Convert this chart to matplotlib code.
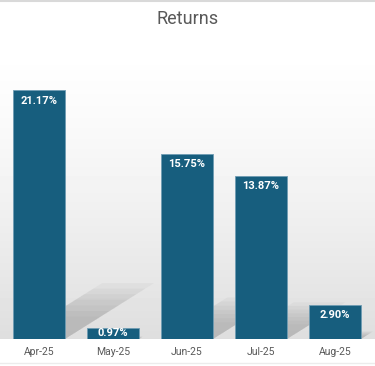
import numpy as np
import matplotlib
matplotlib.use("Agg")
from matplotlib import pyplot as plt
from matplotlib.patches import Polygon

months = ["Apr-25", "May-25", "Jun-25", "Jul-25", "Aug-25"]
returns = [21.17, 0.97, 15.75, 13.87, 2.90]
labels = ["21.17%", "0.97%", "15.75%", "13.87%", "2.90%"]

plt.rcParams['font.family'] = ['Roboto', 'DejaVu Sans']

fig = plt.figure(figsize=(3.75, 3.66), dpi=100)

# background gradient (white at top, light grey towards the floor)
bg = fig.add_axes([0, 0, 1, 1], zorder=-2)
bg.set_axis_off()
h = 366
rows = np.ones(h)
for i in range(h):
    if 40 < i < 339:
        t = (i - 40) / (339 - 40)
        rows[i] = 1.0 - 0.13 * t ** 1.4
grad = np.repeat(rows[:, None], 10, axis=1)
bg.imshow(grad, cmap="gray", vmin=0, vmax=1, aspect="auto", extent=[0, 1, 0, 1])
bg.plot([0, 1], [0.997, 0.997], color="#d9d9d9", lw=1.5)
bg.plot([0, 1], [0.008, 0.008], color="#ececec", lw=1)
bg.set_xlim(0, 1)
bg.set_ylim(0, 1)

ax = fig.add_axes([0, 1 - 339 / 366, 1, 294 / 366])
ax.set_facecolor("none")
x = np.arange(len(months))
ax.set_xlim(-39 / 74, (375 - 39) / 74)
ax.set_ylim(0, 25)

# soft floor shadows cast behind the bars
w = 0.7
for xi, v in zip(x, returns):
    dx = v * 0.057
    dy = v * 0.225
    for k in range(7):
        s = 1 - k * 0.1
        poly = Polygon([(xi - w / 2, 0), (xi + w / 2, 0),
                        (xi + w / 2 + dx * s, dy * s), (xi - w / 2 + dx * s, dy * s)],
                       closed=True, facecolor="#8a8a8a", edgecolor="none",
                       alpha=0.075, zorder=1)
        ax.add_patch(poly)

bars = ax.bar(x, returns, width=w, color="#175e7e", edgecolor="#6f9cb3",
              linewidth=0.6, zorder=3)

for b, v, lab in zip(bars, returns, labels):
    ly = max(v - 0.9, v / 2)
    t = ax.text(b.get_x() + b.get_width() / 2, ly, lab, ha="center", va="center",
                color="white", fontsize=8, fontweight="bold", zorder=4)
    t.set_clip_path(b)

ax.set_xticks(x)
ax.set_xticklabels(months, fontsize=7.5, color="#595959")
ax.tick_params(axis="x", length=0, pad=6)
ax.set_yticks([])
for sp in ax.spines.values():
    sp.set_visible(False)

fig.text(0.5, 1 - 19 / 366, "Returns", ha="center", va="center",
         fontsize=13, color="#595959")

fig.savefig("out.png", dpi=100)
